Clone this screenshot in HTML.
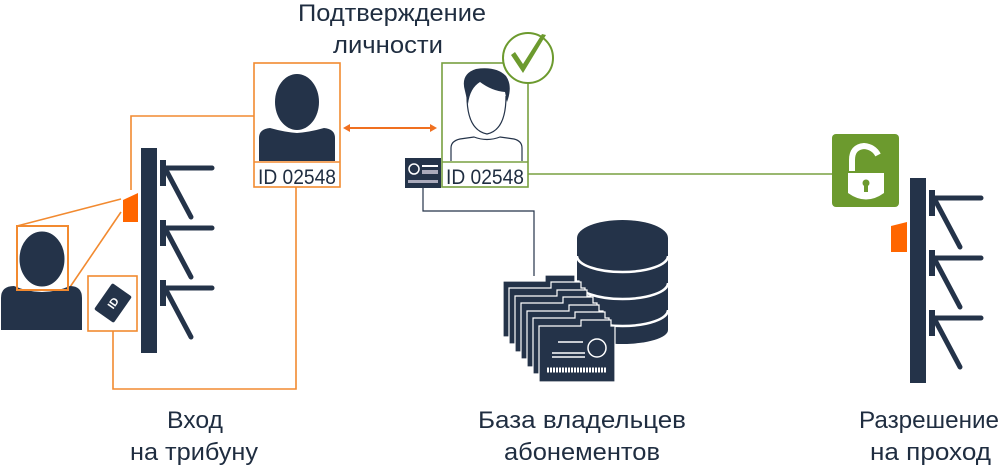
<!DOCTYPE html>
<html><head><meta charset="utf-8"><style>
html,body{margin:0;padding:0;background:#fff;}
svg{display:block;}
text{font-family:"Liberation Sans",sans-serif;fill:#1f2d40;}
</style></head><body>
<svg width="1000" height="466" viewBox="0 0 1000 466" xmlns="http://www.w3.org/2000/svg">
<defs>
<g id="turn">
  <rect x="0" y="0" width="16" height="205" fill="#243349"/>
  <g id="arm">
    <rect x="19" y="12" width="6" height="26" fill="#243349"/>
    <line x1="25" y1="20" x2="71" y2="20" stroke="#243349" stroke-width="5" stroke-linecap="round"/>
    <line x1="25" y1="22" x2="50" y2="69" stroke="#243349" stroke-width="5" stroke-linecap="round"/>
  </g>
  <use href="#arm" y="60"/>
  <use href="#arm" y="120"/>
</g>
<g id="folder">
  <path d="M0 6 H42 V0 H72 V6 H76 V62 H0 Z" fill="#243349" stroke="#fff" stroke-width="1.2"/>
</g>
</defs>

<!-- titles -->
<text x="298" y="21" font-size="24" textLength="188" lengthAdjust="spacingAndGlyphs">Подтверждение</text>
<text x="333" y="53" font-size="24" textLength="110" lengthAdjust="spacingAndGlyphs">личности</text>
<text x="167" y="428" font-size="24" textLength="56" lengthAdjust="spacingAndGlyphs">Вход</text>
<text x="130" y="460" font-size="24" textLength="128" lengthAdjust="spacingAndGlyphs">на трибуну</text>
<text x="478" y="428" font-size="24" textLength="208" lengthAdjust="spacingAndGlyphs">База владельцев</text>
<text x="504" y="460" font-size="24" textLength="156" lengthAdjust="spacingAndGlyphs">абонементов</text>
<text x="859" y="428" font-size="24" textLength="140" lengthAdjust="spacingAndGlyphs">Разрешение</text>
<text x="870" y="460" font-size="24" textLength="121" lengthAdjust="spacingAndGlyphs">на проход</text>

<!-- left turnstile -->
<use href="#turn" x="141" y="148"/>
<path d="M123 200 L138 193 V222 H123 Z" fill="#ff6600"/>
<!-- orange connectors -->
<g fill="none" stroke="#f28a30" stroke-width="1.6">
  <polyline points="131,190 131,116 254,116"/>
  <polyline points="296,187 296,389 113,389 113,331"/>
  <line x1="17" y1="226" x2="121" y2="199"/>
  <line x1="68" y1="290" x2="121" y2="212"/>
  <rect x="88" y="276" width="49" height="55"/>
  <rect x="254" y="63" width="86" height="124"/>
  <line x1="254" y1="162" x2="340" y2="162"/>
  <line x1="348" y1="128" x2="432" y2="128" stroke="#f07020" stroke-width="2"/>
</g>
<path d="M343 128 L350 124 V132 Z M437 128 L430 124 V132 Z" fill="#f07020"/>
<!-- left person -->
<ellipse cx="42" cy="259" rx="23" ry="28" fill="#243349"/>
<path d="M1 330 V298 Q1 286 14 286 Q28 292 42 292 Q56 292 70 286 Q82 286 82 298 V330 Z" fill="#243349"/>
<ellipse cx="42" cy="259" rx="23" ry="28" fill="none" stroke="#fff" stroke-width="1"/>
<rect x="17" y="226" width="51" height="64" fill="none" stroke="#f28a30" stroke-width="2"/>
<!-- ID card icon -->
<g transform="translate(113,303) rotate(35)">
  <rect x="-12" y="-16" width="24" height="32" rx="2" fill="#243349"/>
  <text x="0" y="4" font-size="11" font-weight="bold" text-anchor="middle" style="fill:#fff" transform="rotate(-90)">ID</text>
</g>
<!-- box1 person -->
<ellipse cx="297" cy="102" rx="22" ry="28" fill="#243349"/>
<path d="M259 161 V138 Q259 129 270 128 Q284 132 297 133 Q310 132 324 128 Q335 129 335 138 V161 Z" fill="#243349"/>
<text x="297" y="184" font-size="21" text-anchor="middle" textLength="78" lengthAdjust="spacingAndGlyphs">ID 02548</text>

<!-- green box -->
<g fill="none" stroke="#78a040" stroke-width="1.6">
  <rect x="442" y="63" width="86" height="124"/>
  <line x1="442" y1="162" x2="528" y2="162"/>
  <line x1="528" y1="174" x2="832" y2="174"/>
</g>
<path d="M465 91 Q460 74 476 69 Q496 66 506 76 Q513 86 507 102 L505 92 Q492 91 480 82 Q470 88 468 104 Z" fill="#243349"/>
<path d="M467 96 Q467 130 487 134 Q506 130 506 96" fill="none" stroke="#243349" stroke-width="1.2"/>
<path d="M451 161 V148 Q451 141 460 139 L474 137 Q487 142 500 137 L514 139 Q522 141 522 148 V161" fill="none" stroke="#243349" stroke-width="1.2"/>
<text x="485" y="184" font-size="21" text-anchor="middle" textLength="78" lengthAdjust="spacingAndGlyphs">ID 02548</text>
<circle cx="528" cy="58" r="25" fill="#fff" stroke="#6c9a2e" stroke-width="2"/>
<path d="M511 55 L523 73 L546 35 L542 34 L523 64 L515 52 Z" fill="#6c9a2e"/>
<!-- small card -->
<rect x="405" y="158" width="36" height="30" fill="#243349"/>
<circle cx="414" cy="169" r="5" fill="none" stroke="#fff" stroke-width="1.5"/>
<rect x="422" y="165" width="16" height="2" fill="#fff"/><rect x="422" y="170" width="16" height="4" fill="#aab"/>
<rect x="408" y="180" width="30" height="3" fill="#aab"/>
<!-- dark connector -->
<polyline points="423,188 423,211 534,211 534,276" fill="none" stroke="#243349" stroke-width="1.2"/>

<!-- database -->
<path d="M577 238 A45.5 18 0 0 1 668 238 V330 A45.5 14 0 0 1 577 330 Z" fill="#243349"/>
<path d="M577 256 A45.5 16 0 0 0 668 256 M577 283 A45.5 16 0 0 0 668 283 M577 310 A45.5 16 0 0 0 668 310" fill="none" stroke="#fff" stroke-width="2.5"/>
<!-- folders -->
<use href="#folder" x="503" y="275"/>
<use href="#folder" x="509" y="282"/>
<use href="#folder" x="515" y="290"/>
<use href="#folder" x="521" y="297"/>
<use href="#folder" x="527" y="305"/>
<use href="#folder" x="533" y="312"/>
<use href="#folder" x="539" y="320"/>
<g stroke="#fff" stroke-width="1.5" fill="none">
  <line x1="558" y1="342" x2="583" y2="342"/>
  <line x1="552" y1="353" x2="585" y2="353"/><line x1="552" y1="357" x2="585" y2="357"/>
  <path d="M547 370 h60" stroke-dasharray="2 1" stroke-width="5"/>
  <circle cx="597" cy="348" r="9"/>
</g>

<!-- lock -->
<rect x="832" y="134" width="67" height="73" rx="4" fill="#6c9a2e"/>
<path d="M848 173 V193 Q866 206 884 193 V173 Z" fill="#fff"/>
<path d="M852 171 V160 Q852 147 864 146 Q874 147 878 155" fill="none" stroke="#fff" stroke-width="6"/>
<circle cx="866" cy="183" r="3.5" fill="#6c9a2e"/><rect x="864" y="184" width="4" height="8" fill="#6c9a2e"/>

<!-- right turnstile -->
<use href="#turn" x="910" y="178"/>
<path d="M891 226 L907 222 V252 H891 Z" fill="#ff6600"/>
</svg>
</body></html>
